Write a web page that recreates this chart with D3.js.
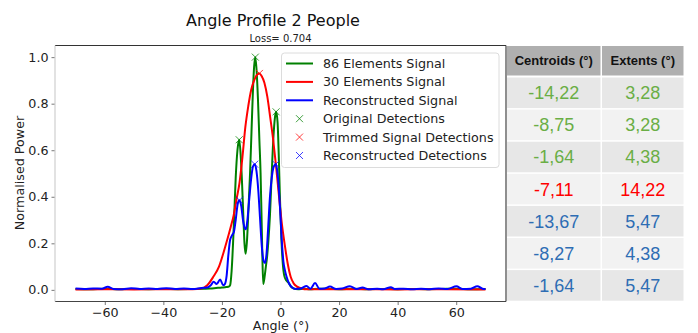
<!DOCTYPE html>
<html>
<head>
<meta charset="utf-8">
<script src="https://cdn.jsdelivr.net/npm/d3@7"></script>
<style>
  body { margin: 0; background: #fff; }
  svg { display: block; font-family: "DejaVu Sans", sans-serif; }
</style>
</head>
<body>
<svg id="chart" width="698" height="333"></svg>
<script>
// 86 element signal (green)
var greenAngle = [-70, -65, -60, -55, -50, -45, -40, -35, -30, -26, -24, -22, -20, -18.5, -17.5, -17.2, -16.7, -16.2, -15.8, -15.3, -14.7, -14.1, -13.6, -13.1, -12.7, -12.3, -11.9, -11.4, -10.9, -10.4, -9.9, -9.4, -9.0, -8.6, -8.2, -7.7, -7.2, -6.8, -6.5, -6.2, -5.9, -5.5, -5.0, -4.6, -4.2, -3.6, -3.0, -2.4, -1.9, -1.5, -1.0, -0.6, -0.2, 0.3, 0.8, 1.3, 2.0, 2.8, 3.5, 4.5, 6, 8, 10, 13, 17, 20, 25, 30, 35, 40, 45, 50, 55, 60, 65, 70];
var greenPower = [0.004, 0.003, 0.005, 0.003, 0.004, 0.003, 0.004, 0.003, 0.004, 0.005, 0.006, 0.008, 0.01, 0.012, 0.015, 0.02, 0.08, 0.2, 0.32, 0.48, 0.6, 0.645, 0.58, 0.45, 0.32, 0.2, 0.155, 0.22, 0.36, 0.5, 0.68, 0.86, 0.96, 1.0, 0.95, 0.82, 0.64, 0.5, 0.33, 0.15, 0.025, 0.05, 0.1, 0.14, 0.2, 0.32, 0.5, 0.66, 0.74, 0.765, 0.72, 0.58, 0.4, 0.22, 0.11, 0.06, 0.04, 0.03, 0.015, 0.006, 0.003, 0.005, 0.003, 0.005, 0.004, 0.003, 0.005, 0.003, 0.004, 0.003, 0.004, 0.003, 0.004, 0.005, 0.003, 0.004];

// 30 element signal (red)
var redAngle = [-70, -60, -50, -40, -30, -27, -25, -23, -21, -19, -17, -16, -15, -14, -13, -12, -11, -10, -9, -8, -7.2, -6.5, -5.5, -4.5, -3.5, -2.5, -1.5, -0.5, 0.5, 1.5, 2.5, 3.5, 4.4, 5.5, 6.9, 8, 15, 25, 40, 55, 70];
var redPower = [0.002, 0.003, 0.002, 0.003, 0.003, 0.006, 0.02, 0.055, 0.1, 0.18, 0.27, 0.32, 0.39, 0.46, 0.57, 0.7, 0.79, 0.86, 0.9, 0.925, 0.93, 0.92, 0.89, 0.83, 0.74, 0.645, 0.53, 0.4, 0.28, 0.19, 0.11, 0.055, 0.03, 0.015, 0.008, 0.003, 0.003, 0.003, 0.002, 0.003, 0.002];

// reconstructed signal (blue)
var blueAngle = [-70, -67, -64, -61, -59, -57, -54, -51, -48, -45, -42, -39, -36, -33, -30, -27, -25, -23.8, -22.8, -21.8, -20.6, -19.6, -19, -18.4, -17.8, -17.2, -16.5, -15.9, -15.3, -14.6, -14.0, -13.4, -12.8, -12.2, -11.8, -11.3, -10.6, -10, -9.4, -8.8, -8.2, -7.6, -7, -6.4, -5.8, -5.3, -4.8, -4.2, -3.6, -3, -2.3, -1.6, -1, -0.2, 0.5, 1, 1.5, 2.1, 3, 3.8, 5, 7, 8.9, 10.2, 11.8, 13.3, 15, 16.9, 19, 21, 23.7, 26, 28, 30, 33, 35, 37.7, 39, 42, 45, 48, 51, 54, 57, 60.1, 62, 65, 67.2, 69, 70];
var bluePower = [0.006, 0.004, 0.006, 0.005, 0.013, 0.004, 0.003, 0.007, 0.004, 0.006, 0.004, 0.007, 0.004, 0.006, 0.004, 0.008, 0.01, 0.02, 0.035, 0.025, 0.045, 0.02, 0.025, 0.06, 0.15, 0.215, 0.235, 0.25, 0.3, 0.37, 0.385, 0.36, 0.3, 0.265, 0.26, 0.3, 0.4, 0.48, 0.53, 0.54, 0.51, 0.43, 0.31, 0.19, 0.125, 0.115, 0.15, 0.27, 0.4, 0.48, 0.53, 0.54, 0.5, 0.36, 0.2, 0.12, 0.085, 0.055, 0.025, 0.012, 0.004, 0.006, 0.017, 0.005, 0.029, 0.005, 0.006, 0.014, 0.004, 0.006, 0.016, 0.004, 0.01, 0.003, 0.005, 0.003, 0.011, 0.004, 0.005, 0.003, 0.005, 0.003, 0.006, 0.004, 0.015, 0.004, 0.005, 0.016, 0.005, 0.004];

// detections
var greenDetAngle = [-14.1, -8.6, -1.5];
var greenDetPower = [0.645, 1.0, 0.765];
var redDetAngle = [-7.2];
var redDetPower = [0.93];
var blueDetAngle = [-14.0, -8.8, -1.6];
var blueDetPower = [0.385, 0.54, 0.54];

var xTicks = [-60, -40, -20, 0, 20, 40, 60];
var yTicks = [0.0, 0.2, 0.4, 0.6, 0.8, 1.0];

var legendLabels = ["86 Elements Signal", "30 Elements Signal", "Reconstructed Signal",
  "Original Detections", "Trimmed Signal Detections", "Reconstructed Detections"];

// table
var tableHeader = ["Centroids (°)", "Extents (°)"];
var centroids = ["-14,22", "-8,75", "-1,64", "-7,11", "-13,67", "-8,27", "-1,64"];
var extents = ["3,28", "3,28", "4,38", "14,22", "5,47", "4,38", "5,47"];
var rowGroup = ["g", "g", "g", "r", "b", "b", "b"];

var svg = d3.select("#chart");

var LEFT = 55, RIGHT = 506, TOP = 45.5, BOTTOM = 301.5;

var x = d3.scaleLinear().domain([-77, 77]).range([LEFT, RIGHT]);
var y = d3.scaleLinear().domain([-0.05, 1.05]).range([BOTTOM, TOP]);

svg.append("defs").append("clipPath").attr("id", "clip")
  .append("rect").attr("x", LEFT).attr("y", TOP).attr("width", RIGHT - LEFT).attr("height", BOTTOM - TOP);

// axes
var xAxis = d3.axisBottom(x).tickValues(xTicks).tickSize(3.5).tickPadding(2.5)
  .tickFormat(function(d) { return d < 0 ? "\u2212" + (-d) : d; });
var yAxis = d3.axisLeft(y).tickValues(yTicks).tickSize(3.5).tickPadding(3)
  .tickFormat(d3.format(".1f"));

var gx = svg.append("g").attr("transform", "translate(0," + BOTTOM + ")").call(xAxis);
var gy = svg.append("g").attr("transform", "translate(" + LEFT + ",0)").call(yAxis);
[gx, gy].forEach(function(g) {
  g.select(".domain").remove();
  g.selectAll(".tick line").attr("stroke", "#555").attr("stroke-width", 0.8);
  g.selectAll(".tick text").attr("fill", "#222").style("font-size", "12.7px")
    .style("font-family", "DejaVu Sans");
});

// frame
svg.append("line").attr("x1", LEFT).attr("x2", RIGHT).attr("y1", TOP).attr("y2", TOP).attr("stroke", "#333").attr("stroke-width", 1.2);
svg.append("line").attr("x1", LEFT).attr("x2", RIGHT).attr("y1", BOTTOM).attr("y2", BOTTOM).attr("stroke", "#444").attr("stroke-width", 1.2);
svg.append("line").attr("x1", RIGHT).attr("x2", RIGHT).attr("y1", TOP).attr("y2", BOTTOM).attr("stroke", "#444").attr("stroke-width", 1.2);
svg.append("line").attr("x1", LEFT).attr("x2", LEFT).attr("y1", TOP).attr("y2", BOTTOM).attr("stroke", "#cfcfcf").attr("stroke-width", 1.2);

// lines
var plot = svg.append("g").attr("clip-path", "url(#clip)");
function drawLine(ax, pw, color) {
  var pts = ax.map(function(a, i) { return [a, pw[i]]; });
  plot.append("path").datum(pts)
    .attr("fill", "none").attr("stroke", color).attr("stroke-width", 2)
    .attr("stroke-linejoin", "round")
    .attr("d", d3.line().x(function(d) { return x(d[0]); }).y(function(d) { return y(d[1]); }).curve(d3.curveMonotoneX));
}
drawLine(greenAngle, greenPower, "#008000");
drawLine(redAngle, redPower, "#ff0000");
drawLine(blueAngle, bluePower, "#0000ff");

function crossPath(cx, cy, r) {
  return "M" + (cx - r) + "," + (cy - r) + "L" + (cx + r) + "," + (cy + r) +
    "M" + (cx - r) + "," + (cy + r) + "L" + (cx + r) + "," + (cy - r);
}
function drawMarks(ax, pw, color) {
  plot.selectAll(null).data(ax).enter().append("path")
    .attr("d", function(a, i) { return crossPath(x(a), y(pw[i]), 3.5); })
    .attr("stroke", color).attr("stroke-width", 1).attr("fill", "none").attr("opacity", 0.75);
}
drawMarks(greenDetAngle, greenDetPower, "#008000");
drawMarks(redDetAngle, redDetPower, "#ff0000");
drawMarks(blueDetAngle, blueDetPower, "#0000ff");

// legend
var leg = svg.append("g");
leg.append("rect").attr("x", 281.5).attr("y", 53).attr("width", 217.5).attr("height", 114.5)
  .attr("rx", 3).attr("fill", "#fff").attr("fill-opacity", 0.85)
  .attr("stroke", "#dcdcdc").attr("stroke-width", 1);
var legColors = ["#008000", "#ff0000", "#0000ff", "#008000", "#ff0000", "#0000ff"];
legendLabels.forEach(function(lab, i) {
  var cy = 63.5 + i * 18.4;
  if (i < 3) {
    leg.append("line").attr("x1", 286).attr("x2", 313).attr("y1", cy).attr("y2", cy)
      .attr("stroke", legColors[i]).attr("stroke-width", 2);
  } else {
    leg.append("path").attr("d", crossPath(299.5, cy, 3.5))
      .attr("stroke", legColors[i]).attr("stroke-width", 1).attr("fill", "none").attr("opacity", 0.75);
  }
  leg.append("text").attr("x", 323).attr("y", cy).attr("dy", "0.36em")
    .style("font-size", "12.7px").attr("fill", "#222").text(lab);
});

// titles
svg.append("text").attr("x", 273).attr("y", 26).attr("text-anchor", "middle")
  .style("font-size", "16px").attr("fill", "#111").text("Angle Profile 2 People");
svg.append("text").attr("x", 280.5).attr("y", 42).attr("text-anchor", "middle")
  .style("font-size", "10px").attr("fill", "#222").text("Loss= 0.704");
svg.append("text").attr("x", 281).attr("y", 330).attr("text-anchor", "middle")
  .style("font-size", "12.7px").attr("fill", "#222").text("Angle (°)");
svg.append("text").attr("transform", "translate(24,173) rotate(-90)").attr("text-anchor", "middle")
  .style("font-size", "12.7px").attr("fill", "#222").text("Normalised Power");

// table
var colX = [507, 602], colW = [93.5, 81.5];
var headerY = 46, headerH = 29.5, rowY0 = 77.5, rowH = 32.1;
var textColors = { g: "#6aae45", r: "#ff0000", b: "#2e6db4" };
var tbl = svg.append("g").style("font-family", "'Liberation Sans', Arial, sans-serif");
tableHeader.forEach(function(h, j) {
  tbl.append("rect").attr("x", colX[j]).attr("y", headerY).attr("width", colW[j]).attr("height", headerH)
    .attr("fill", "#afafaf");
  tbl.append("text").attr("x", colX[j] + colW[j] / 2).attr("y", headerY + headerH / 2).attr("dy", "0.36em")
    .attr("text-anchor", "middle").style("font-size", "13px").style("font-weight", "bold")
    .attr("fill", "#111").text(h);
});
centroids.forEach(function(c, i) {
  var ry = rowY0 + i * rowH;
  [c, extents[i]].forEach(function(v, j) {
    tbl.append("rect").attr("x", colX[j]).attr("y", ry).attr("width", colW[j]).attr("height", rowH - 1.5)
      .attr("fill", i % 2 === 0 ? "#e7e7e7" : "#f2f2f2");
    tbl.append("text").attr("x", colX[j] + colW[j] / 2).attr("y", ry + (rowH - 1.5) / 2).attr("dy", "0.36em")
      .attr("text-anchor", "middle").style("font-size", "18px")
      .attr("fill", textColors[rowGroup[i]]).text(v);
  });
});
</script>
</body>
</html>
